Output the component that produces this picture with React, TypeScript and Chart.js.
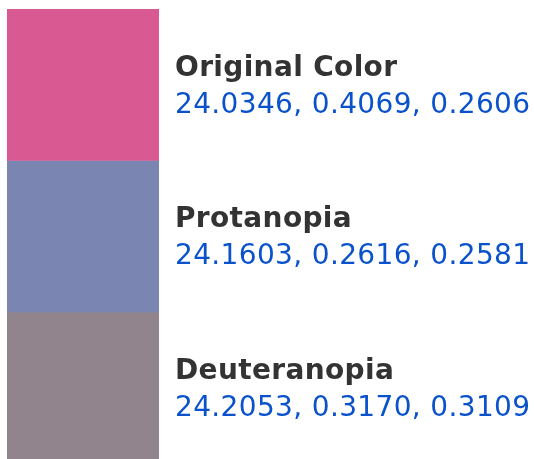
import React, { useEffect, useRef } from "react";
import { Chart, registerables } from "chart.js";

Chart.register(...registerables);

const categories = ["Original Color", "Protanopia", "Deuteranopia"];
const swatchColors = ["#D95A93", "#7A86B1", "#91848C"];
const valueA = [24.0346, 24.1603, 24.2053];
const valueB = [0.4069, 0.2616, 0.317];
const valueC = [0.2606, 0.2581, 0.3109];
const cellSize = [1, 1, 1];

const W = 534;
const H = 459;

export default function App() {
  const ref = useRef<HTMLCanvasElement | null>(null);

  useEffect(() => {
    const canvas = ref.current;
    if (!canvas) return;

    const labelPlugin = {
      id: "swatchLabels",
      afterDraw(chart: any) {
        const ctx = chart.ctx;
        const yScale = chart.scales.y;
        const xScale = chart.scales.x;
        const meta = chart.getDatasetMeta(0);
        const bar = meta.data[0];
        const right = bar ? bar.x + bar.width / 2 : xScale.right;
        const textX = right + 16;
        ctx.save();
        ctx.textAlign = "left";
        ctx.textBaseline = "alphabetic";
        try {
          (ctx as any).letterSpacing = "0.35px";
        } catch (e) {}
        categories.forEach((name, i) => {
          const cy = yScale.getPixelForValue(i + 0.5);
          ctx.font = "bold 28px 'DejaVu Sans'";
          ctx.fillStyle = "#333333";
          ctx.fillText(name, textX, cy - 9);
          ctx.font = "28px 'DejaVu Sans'";
          ctx.fillStyle = "#0A52CC";
          const txt = `${valueA[i].toFixed(4)}, ${valueB[i].toFixed(4)}, ${valueC[i].toFixed(4)}`;
          ctx.fillText(txt, textX, cy + 28);
        });
        ctx.restore();
      },
    };

    const chart = new Chart(canvas, {
      type: "bar",
      data: {
        labels: ["swatch"],
        datasets: categories.map((name, i) => ({
          label: name,
          data: [cellSize[i]],
          backgroundColor: swatchColors[i],
          borderWidth: 0,
          barPercentage: 1,
          categoryPercentage: 1,
        })),
      },
      options: {
        responsive: false,
        animation: false,
        layout: { padding: { left: 7, top: 9, right: 375, bottom: 0 } },
        plugins: {
          legend: { display: false },
          tooltip: { enabled: false },
          title: { display: false },
        },
        scales: {
          x: { display: false, stacked: true },
          y: {
            display: false,
            stacked: true,
            reverse: true,
            min: 0,
            max: (H - 9) / 151.5,
          },
        },
      },
      plugins: [labelPlugin],
    });

    return () => chart.destroy();
  }, []);

  return (
    <div style={{ position: "fixed", left: 0, top: 0, width: W, height: H, background: "#fff" }}>
      <canvas ref={ref} width={W} height={H} style={{ width: W, height: H, display: "block" }} />
    </div>
  );
}
